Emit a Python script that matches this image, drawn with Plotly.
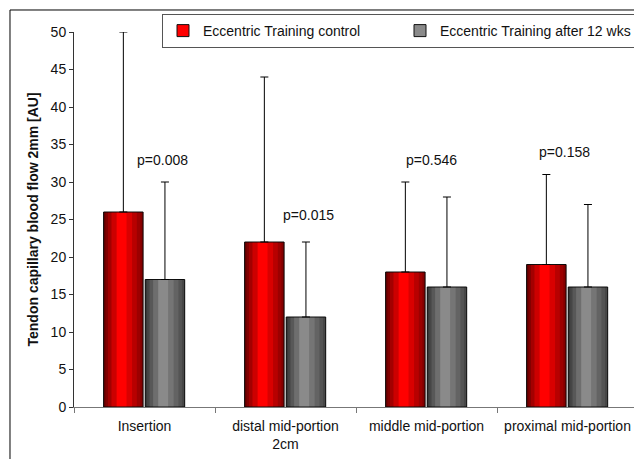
import plotly.graph_objects as go

# ---------------- data ----------------
categories = ["Insertion", "distal mid-portion<br>2cm", "middle mid-portion", "proximal mid-portion"]
control_name = "Eccentric Training control"
control_values = [26, 22, 18, 19]
control_upper = [50, 44, 30, 31]
after_name = "Eccentric Training after 12 wks"
after_values = [17, 12, 16, 16]
after_upper = [30, 22, 28, 27]
p_labels = ["p=0.008", "p=0.015", "p=0.546", "p=0.158"]
y_tick_values = [0, 5, 10, 15, 20, 25, 30, 35, 40, 45, 50]

# ---------------- style / layout ----------------
FONT = "Liberation Sans, Arial, sans-serif"
TXT = "#111111"
BAR_W = 0.28
p_label_y = [33, 25.6, 33, 34]
p_label_shift = [18, 23, 5, -3]

series = [
    (control_name, control_values, control_upper, -0.29, "#ff0000"),
    (after_name, after_values, after_upper, 0.005, "#8a8a8a"),
]

fig = go.Figure()
for name, vals, upper, off, col in series:
    fig.add_trace(go.Bar(
        x=categories, y=vals, name=name,
        offset=off, width=BAR_W,
        marker=dict(color=col, line=dict(color="#111111", width=1)),
        error_y=dict(type="data", symmetric=False,
                     array=[u - v for u, v in zip(upper, vals)],
                     arrayminus=[0] * len(vals),
                     color="#000000", thickness=1, width=4),
        showlegend=True,
    ))
    # left shading (3D cylinder look)
    for f in [0.33, 0.2, 0.11, 0.05]:
        fig.add_trace(go.Bar(
            x=categories, y=vals, offset=off, width=BAR_W * f,
            marker=dict(color="rgba(0,0,0,0.2)", line=dict(width=0)),
            showlegend=False, hoverinfo="skip",
        ))
    # right shading
    for f in [0.42, 0.28, 0.16, 0.07]:
        fig.add_trace(go.Bar(
            x=categories, y=vals, offset=off + BAR_W * (1 - f), width=BAR_W * f,
            marker=dict(color="rgba(0,0,0,0.15)", line=dict(width=0)),
            showlegend=False, hoverinfo="skip",
        ))

annotations = []
for cat, txt, py, sh in zip(categories, p_labels, p_label_y, p_label_shift):
    annotations.append(dict(x=cat, y=py, xref="x", yref="y", text=txt, showarrow=False,
                            xshift=sh, font=dict(family=FONT, size=14, color=TXT)))
annotations.append(dict(x=-0.0727, y=0.5, xref="paper", yref="paper",
                        text="<b>Tendon capillary blood flow 2mm [AU]</b>", textangle=-90,
                        showarrow=False, xanchor="center", yanchor="middle",
                        font=dict(family=FONT, size=14, color=TXT)))

# page body has an 8px margin: figure is sized/offset to compensate
fig.update_layout(
    width=634, height=451,
    margin=dict(l=66, r=4, t=24, b=52),
    paper_bgcolor="white", plot_bgcolor="white",
    barmode="overlay",
    font=dict(family=FONT, size=14, color=TXT),
    showlegend=True,
    legend=dict(orientation="h", x=1, xanchor="right", y=1.048, yanchor="top",
                bordercolor="#555555", borderwidth=1, bgcolor="white",
                font=dict(family=FONT, size=14, color=TXT),
                entrywidth=192, itemwidth=30, tracegroupgap=0),
    annotations=annotations,
    shapes=[dict(type="rect", xref="paper", yref="paper",
                 x0=-0.1135, x1=1.2, y0=-0.3, y1=1.0587,
                 line=dict(color="#000000", width=1), layer="below")],
)
fig.update_xaxes(type="category", range=[-0.5, 3.5], showline=True, linecolor="#777777",
                 linewidth=1, ticks="outside", tickson="boundaries", ticklen=5,
                 tickcolor="#777777", showgrid=False, zeroline=False, ticklabelstandoff=6,
                 tickfont=dict(family=FONT, size=14, color=TXT))
fig.update_yaxes(range=[0, 50], tickvals=y_tick_values, showline=True, linecolor="#333333",
                 linewidth=1, ticks="outside", ticklen=4, tickcolor="#333333",
                 showgrid=False, zeroline=False,
                 tickfont=dict(family=FONT, size=14, color=TXT))

fig.write_html("out.html")
